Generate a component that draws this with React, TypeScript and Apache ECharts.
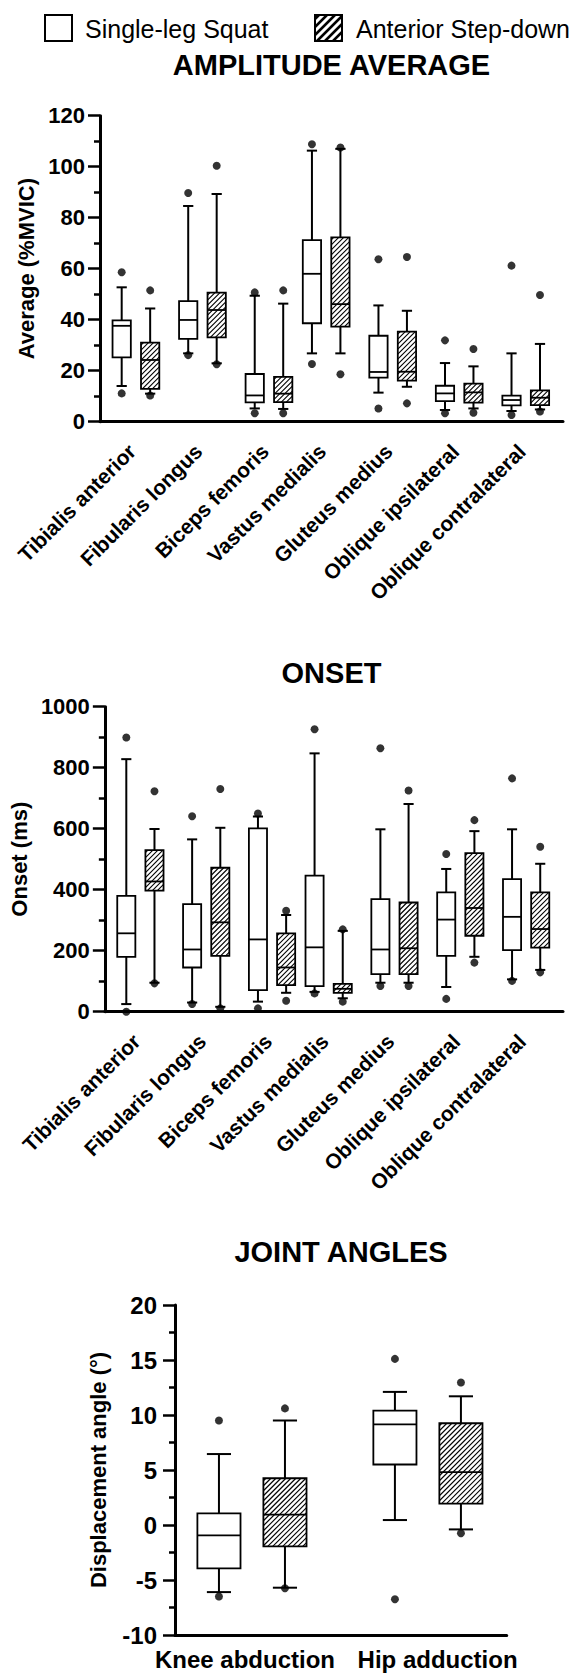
import React, { useEffect, useRef } from 'react';
import * as echarts from 'echarts';

const FONT = '"Liberation Sans", Arial, Helvetica, sans-serif';

// ---------- DATA ----------
const seriesNames = ['Single-leg Squat', 'Anterior Step-down'];

const muscles = [
  'Tibialis anterior',
  'Fibularis longus',
  'Biceps femoris',
  'Vastus medialis',
  'Gluteus medius',
  'Oblique ipsilateral',
  'Oblique contralateral',
];

// AMPLITUDE AVERAGE (%MVIC): [lower whisker, Q1, median, Q3, upper whisker]
const ampSquat = [
  [14.0, 25.2, 37.6, 39.7, 52.7],
  [26.8, 32.5, 39.9, 47.3, 84.6],
  [5.2, 7.6, 10.3, 18.7, 49.4],
  [26.8, 38.6, 58.0, 71.2, 106.3],
  [11.4, 17.3, 19.5, 33.7, 45.6],
  [4.6, 8.1, 11.1, 14.1, 23.0],
  [4.2, 6.4, 8.5, 10.2, 26.8],
];
const ampSquatOutliers = [
  [58.6, 11.1],
  [89.7, 26.1],
  [50.7, 3.3],
  [108.8, 22.6],
  [63.7, 5.2],
  [31.9, 3.3],
  [61.2, 2.6],
];
const ampStep = [
  [11.0, 12.9, 24.2, 31.0, 44.4],
  [22.9, 33.1, 43.8, 50.6, 89.3],
  [5.0, 7.7, 11.0, 17.6, 46.3],
  [26.8, 37.3, 46.1, 72.3, 107.0],
  [13.7, 16.1, 19.6, 35.3, 43.5],
  [5.2, 7.5, 11.5, 14.9, 21.7],
  [4.8, 6.5, 9.4, 12.3, 30.5],
];
const ampStepOutliers = [
  [51.5, 10.3],
  [100.4, 22.5],
  [51.5, 3.3],
  [107.5, 18.6],
  [64.6, 7.2],
  [28.5, 3.5],
  [49.7, 4.0],
];
const ampAxis = { min: 0, max: 120, interval: 20 };

// ONSET (ms)
const onsetSquat = [
  [25, 180, 257, 380, 828],
  [30, 145, 204, 353, 565],
  [33, 71, 237, 601, 640],
  [65, 84, 211, 446, 847],
  [95, 123, 204, 369, 598],
  [81, 183, 302, 391, 468],
  [106, 202, 311, 435, 598],
];
const onsetSquatOutliers = [
  [899, 0],
  [641, 25],
  [650, 11],
  [926, 60],
  [864, 84],
  [517, 42],
  [765, 101],
];
const onsetStep = [
  [95, 397, 427, 530, 599],
  [16, 183, 293, 472, 603],
  [62, 87, 145, 257, 317],
  [44, 62, 75, 91, 265],
  [95, 123, 208, 358, 681],
  [180, 249, 340, 520, 592],
  [137, 210, 271, 391, 485],
];
const onsetStepOutliers = [
  [723, 93],
  [730, 11],
  [331, 36],
  [270, 33],
  [725, 84],
  [628, 161],
  [541, 129],
];
const onsetAxis = { min: 0, max: 1000, interval: 200 };

// JOINT ANGLES (deg)
const joints = ['Knee abduction', 'Hip adduction'];
const jointSquat = [
  [-6.1, -3.95, -0.95, 1.05, 6.45],
  [0.45, 5.5, 9.15, 10.4, 12.1],
];
const jointSquatOutliers = [
  [9.5, -6.5],
  [15.1, -6.75],
];
const jointStep = [
  [-5.7, -1.95, 0.95, 4.25, 9.5],
  [-0.4, 1.95, 4.8, 9.25, 11.7],
];
const jointStepOutliers = [
  [10.6, -5.75],
  [12.95, -0.75],
];
const jointAxis = { min: -10, max: 20, interval: 5 };

// ---------- LAYOUT ----------
const muscleSlots = [0.54, 1.54, 2.54, 3.4, 4.4, 5.4, 6.4];
const muscleMax = 6.96;
const muscleLabelSlots = muscleSlots.map((s) => s - 0.06);
const musclePair = 0.214;
const muscleBoxW = 0.275;

const jointSlots = [0.464, 1.525];
const jointMax = 2;
const jointLabelSlots = [0.422, 1.583];
const jointPair = 0.199;
const jointBoxW = 0.26;

function hatchSegments(x0: number, y0: number, x1: number, y1: number, step: number) {
  const segs: number[][] = [];
  const cStart = x0 + y0;
  const cEnd = x1 + y1;
  for (let c = cStart + step / 2; c < cEnd; c += step) {
    const ax = Math.max(x0, c - y1);
    const ay = c - ax;
    const bx = Math.min(x1, c - y0);
    const by = c - bx;
    if (bx > ax) segs.push([ax, ay, bx, by]);
  }
  return segs;
}

function makeBoxRenderer(boxW: number, hatched: boolean) {
  return (params: any, api: any) => {
    const x = api.value(0);
    const pts = [1, 2, 3, 4, 5].map((k) => api.coord([x, api.value(k)]));
    const cx = pts[0][0];
    const w = api.size([boxW, 0])[0];
    const x0 = cx - w / 2;
    const x1 = cx + w / 2;
    const yLo = pts[0][1];
    const yQ1 = pts[1][1];
    const yMed = pts[2][1];
    const yQ3 = pts[3][1];
    const yHi = pts[4][1];
    const cap = w * 0.28;
    const stroke = '#000';
    const children: any[] = [
      { type: 'line', shape: { x1: cx, y1: yQ3, x2: cx, y2: yHi }, style: { stroke, lineWidth: 2 } },
      { type: 'line', shape: { x1: cx, y1: yQ1, x2: cx, y2: yLo }, style: { stroke, lineWidth: 2 } },
      { type: 'line', shape: { x1: cx - cap, y1: yHi, x2: cx + cap, y2: yHi }, style: { stroke, lineWidth: 2 } },
      { type: 'line', shape: { x1: cx - cap, y1: yLo, x2: cx + cap, y2: yLo }, style: { stroke, lineWidth: 2 } },
      { type: 'rect', shape: { x: x0, y: yQ3, width: w, height: yQ1 - yQ3 }, style: { fill: '#fff', stroke: 'none' } },
    ];
    if (hatched) {
      hatchSegments(x0, yQ3, x1, yQ1, 5).forEach((s) =>
        children.push({ type: 'line', shape: { x1: s[0], y1: s[1], x2: s[2], y2: s[3] }, style: { stroke, lineWidth: 1.1 } })
      );
    }
    children.push({ type: 'rect', shape: { x: x0, y: yQ3, width: w, height: yQ1 - yQ3 }, style: { fill: 'none', stroke, lineWidth: 1.8 } });
    children.push({ type: 'line', shape: { x1: x0, y1: yMed, x2: x1, y2: yMed }, style: { stroke, lineWidth: 1.8 } });
    return { type: 'group', children };
  };
}

function nearestName(v: number, slots: number[], names: string[]) {
  let best = -1;
  let d = 1e9;
  slots.forEach((s, i) => {
    const dd = Math.abs(s - v);
    if (dd < d) {
      d = dd;
      best = i;
    }
  });
  return d < 0.02 ? names[best] : '';
}

function xAxisCfg(gridIndex: number, max: number, labelSlots: number[], names: string[], rotate: number, fontSize: number, margin: number) {
  return {
    type: 'value',
    gridIndex,
    min: 0,
    max,
    axisLine: { show: true, onZero: false, lineStyle: { color: '#000', width: 3 } },
    axisTick: { show: false },
    splitLine: { show: false },
    axisLabel: {
      customValues: labelSlots,
      formatter: (v: number) => nearestName(v, labelSlots, names),
      rotate,
      fontSize,
      fontWeight: 'bold',
      color: '#000',
      fontFamily: FONT,
      margin,
    },
  };
}

function yAxisCfg(gridIndex: number, ax: any, name: string, nameGap: number, labelSize: number, labelMargin: number) {
  return {
    type: 'value',
    gridIndex,
    min: ax.min,
    max: ax.max,
    interval: ax.interval,
    name,
    nameLocation: 'middle',
    nameGap,
    nameTextStyle: { fontSize: 22, fontWeight: 'bold', color: '#000', fontFamily: FONT },
    axisLine: { show: true, onZero: false, lineStyle: { color: '#000', width: 3 } },
    axisTick: { show: true, length: 12, lineStyle: { color: '#000', width: 2.5 } },
    minorTick: { show: true, splitNumber: 2, length: 6, lineStyle: { color: '#000', width: 2.5 } },
    splitLine: { show: false },
    minorSplitLine: { show: false },
    axisLabel: {
      fontSize: labelSize,
      fontWeight: 'bold',
      color: '#000',
      fontFamily: FONT,
      margin: labelMargin,
      formatter: (v: number) => String(v),
    },
  };
}

function boxSeries(idx: number, stats: number[][], slots: number[], offset: number, boxW: number, hatched: boolean, name: string) {
  return {
    type: 'custom',
    name,
    xAxisIndex: idx,
    yAxisIndex: idx,
    silent: true,
    z: 2,
    renderItem: makeBoxRenderer(boxW, hatched),
    encode: { x: 0, y: [1, 2, 3, 4, 5] },
    data: stats.map((s, i) => [slots[i] + offset, ...s]),
  };
}

function outlierSeries(idx: number, outs: number[][], slots: number[], offset: number, name: string) {
  const data: number[][] = [];
  outs.forEach((list, i) => list.forEach((v) => data.push([slots[i] + offset, v])));
  return {
    type: 'scatter',
    name,
    xAxisIndex: idx,
    yAxisIndex: idx,
    silent: true,
    z: 5,
    symbol: 'circle',
    symbolSize: 8,
    itemStyle: { color: '#000' },
    data,
  };
}

function hatchedSquare(x: number, y: number, w: number, h: number) {
  const children: any[] = [
    { type: 'rect', shape: { x, y, width: w, height: h }, style: { fill: '#fff', stroke: 'none' } },
  ];
  hatchSegments(x, y, x + w, y + h, 8).forEach((s) =>
    children.push({ type: 'line', shape: { x1: s[0], y1: s[1], x2: s[2], y2: s[3] }, style: { stroke: '#000', lineWidth: 2.5 } })
  );
  children.push({ type: 'rect', shape: { x, y, width: w, height: h }, style: { fill: 'none', stroke: '#000', lineWidth: 2 } });
  return { type: 'group', children };
}

function titleText(text: string, x: number, y: number) {
  return {
    type: 'text',
    x,
    y,
    style: { text, align: 'center', verticalAlign: 'middle', fontSize: 29, fontWeight: 'bold', fontFamily: FONT, fill: '#000' },
  };
}

export default function App() {
  const ref = useRef<HTMLDivElement>(null);
  useEffect(() => {
    document.body.style.margin = '0';
    if (!ref.current) return;
    const chart = echarts.init(ref.current, undefined, { renderer: 'svg' });
    const option: any = {
      animation: false,
      backgroundColor: '#fff',
      grid: [
        { left: 100, top: 115.7, width: 463, height: 306 },
        { left: 100, top: 706.7, width: 463, height: 305 },
        { left: 175, top: 1305, width: 331.7, height: 330 },
      ],
      xAxis: [
        xAxisCfg(0, muscleMax, muscleLabelSlots, muscles, 45, 21, 26),
        xAxisCfg(1, muscleMax, muscleLabelSlots, muscles, 45, 21, 26),
        xAxisCfg(2, jointMax, jointLabelSlots, joints, 0, 24, 12),
      ],
      yAxis: [
        yAxisCfg(0, ampAxis, 'Average (%MVIC)', 52, 22, 15),
        yAxisCfg(1, onsetAxis, 'Onset (ms)', 73, 22, 15),
        yAxisCfg(2, jointAxis, 'Displacement angle (°)', 66, 24, 18),
      ],
      series: [
        boxSeries(0, ampSquat, muscleSlots, -musclePair, muscleBoxW, false, seriesNames[0]),
        boxSeries(0, ampStep, muscleSlots, musclePair, muscleBoxW, true, seriesNames[1]),
        outlierSeries(0, ampSquatOutliers, muscleSlots, -musclePair, seriesNames[0]),
        outlierSeries(0, ampStepOutliers, muscleSlots, musclePair, seriesNames[1]),
        boxSeries(1, onsetSquat, muscleSlots, -musclePair, muscleBoxW, false, seriesNames[0]),
        boxSeries(1, onsetStep, muscleSlots, musclePair, muscleBoxW, true, seriesNames[1]),
        outlierSeries(1, onsetSquatOutliers, muscleSlots, -musclePair, seriesNames[0]),
        outlierSeries(1, onsetStepOutliers, muscleSlots, musclePair, seriesNames[1]),
        boxSeries(2, jointSquat, jointSlots, -jointPair, jointBoxW, false, seriesNames[0]),
        boxSeries(2, jointStep, jointSlots, jointPair, jointBoxW, true, seriesNames[1]),
        outlierSeries(2, jointSquatOutliers, jointSlots, -jointPair, seriesNames[0]),
        outlierSeries(2, jointStepOutliers, jointSlots, jointPair, seriesNames[1]),
      ],
      graphic: [
        { type: 'rect', shape: { x: 45, y: 15, width: 27, height: 26 }, style: { fill: '#fff', stroke: '#000', lineWidth: 2 } },
        { type: 'text', x: 85, y: 29, style: { text: seriesNames[0], verticalAlign: 'middle', fontSize: 25, fontFamily: FONT, fill: '#000' } },
        hatchedSquare(315, 15, 27, 26),
        { type: 'text', x: 356, y: 29, style: { text: seriesNames[1], verticalAlign: 'middle', fontSize: 25, fontFamily: FONT, fill: '#000' } },
        titleText('AMPLITUDE AVERAGE', 331.5, 65),
        titleText('ONSET', 331.5, 673),
        titleText('JOINT ANGLES', 341, 1252),
      ],
    };
    chart.setOption(option);
    return () => chart.dispose();
  }, []);
  return <div ref={ref} style={{ width: 576, height: 1675 }} />;
}
